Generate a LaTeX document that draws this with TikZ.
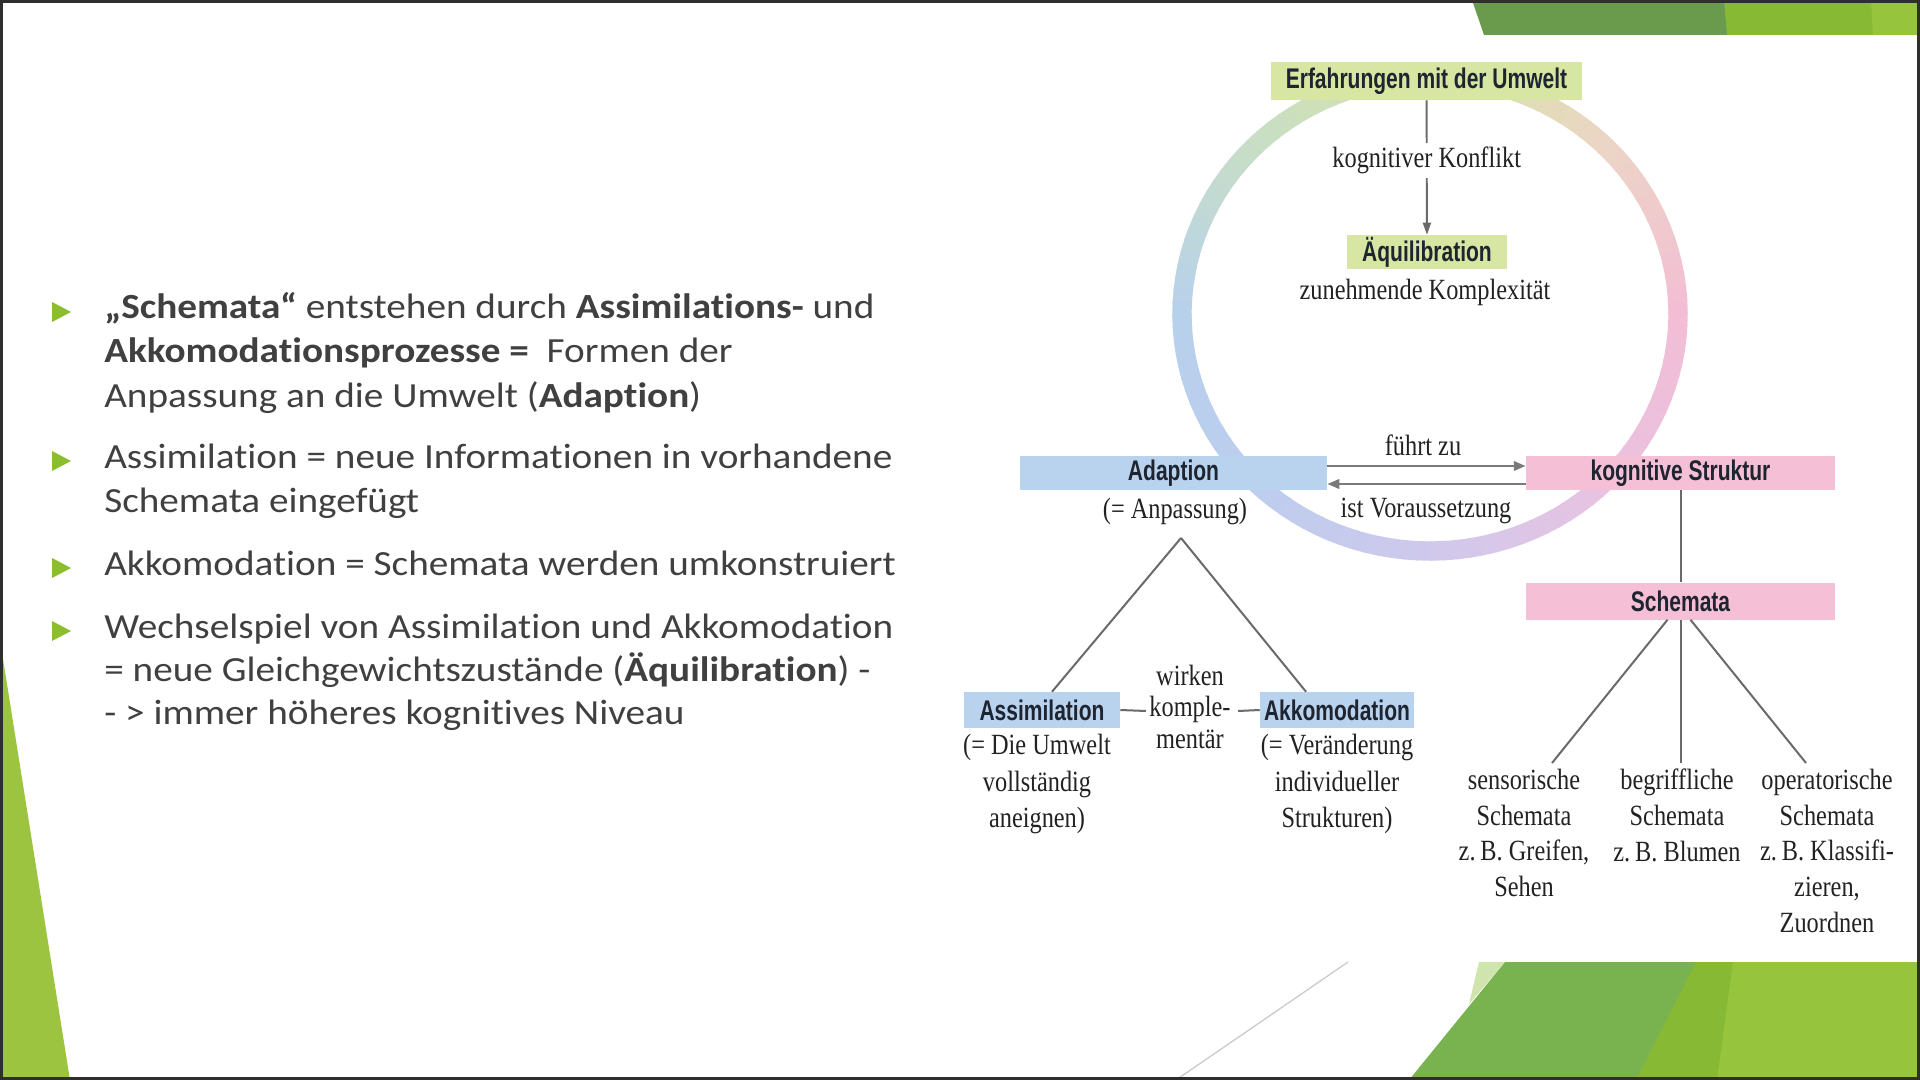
\documentclass[tikz,border=0pt]{standalone}
\usepackage{fontspec}
\setmainfont[FakeStretch=1.11,Ligatures=NoCommon]{Carlito}
\newfontfamily\dserif[FakeStretch=0.83]{Liberation Serif}
\newfontfamily\dsans[FakeStretch=0.74]{Liberation Sans}
\usetikzlibrary{arrows.meta,calc}
\definecolor{ltext}{HTML}{404040}
\definecolor{dtext}{HTML}{222222}
\definecolor{boxtext}{HTML}{1E2430}
\definecolor{bulgreen}{HTML}{8CBD2C}
\definecolor{boxgreen}{HTML}{D7E6A3}
\definecolor{boxblue}{HTML}{B9D3EE}
\definecolor{boxpink}{HTML}{F5C0D6}
\definecolor{linegray}{HTML}{6A6A6A}
\definecolor{arrgray}{HTML}{7A7A7A}
\definecolor{r0}{HTML}{F3BDD5}
\definecolor{r45}{HTML}{ECD5C6}
\definecolor{r90}{HTML}{D5E4A6}
\definecolor{r135}{HTML}{C8DEC6}
\definecolor{r180}{HTML}{B7D1EC}
\definecolor{r225}{HTML}{BCCDEE}
\definecolor{r270}{HTML}{CFC9EC}
\definecolor{r315}{HTML}{E9C2E0}
\definecolor{gdark}{HTML}{6A9A4B}
\definecolor{gbright}{HTML}{88B935}
\definecolor{glight}{HTML}{96C43D}
\definecolor{gmid}{HTML}{79B34F}
\definecolor{gpale}{HTML}{CFE5AD}
\definecolor{gleft}{HTML}{9CC441}
\definecolor{frame}{HTML}{2E2E2E}
\begin{document}
\begin{tikzpicture}[x=0.75pt,y=-0.75pt,
  box/.style={inner sep=0pt, font=\dsans\bfseries\fontsize{21.3}{24}\selectfont, text=boxtext},
  gbox/.style={box, fill=boxgreen},
  bbox/.style={box, fill=boxblue},
  pbox/.style={box, fill=boxpink},
  lbl/.style={font=\dserif\fontsize{22}{27.3}\selectfont, text=dtext, align=center, inner sep=0pt},
  ltxt/.style={anchor=base west, inner sep=0pt, font=\fontsize{26.5}{30}\selectfont, text=ltext},
  bul/.style={fill=bulgreen},
  conn/.style={draw=linegray, line width=1.5pt},
  harr/.style={draw=arrgray, line width=1.9pt, -{Triangle[length=9pt,width=7pt]}},
  varr/.style={draw=linegray, line width=1.4pt, -{Triangle[length=9pt,width=6pt]}},
  ring/.style={line width=14.5pt, line cap=butt}
]
\useasboundingbox (0,0) rectangle (1920,1080);
\fill[white] (0,0) rectangle (1920,1080);

% decorative shapes
\fill[gleft] (0,640) -- (70,1080) -- (0,1080) -- cycle;
\fill[gdark] (1472,0) -- (1920,0) -- (1920,35) -- (1484,35) -- cycle;
\fill[gbright] (1724,0) -- (1920,0) -- (1920,35) -- (1727,35) -- cycle;
\fill[glight] (1871,0) -- (1920,0) -- (1920,35) -- (1873,35) -- cycle;
\fill[gmid] (1505,962) -- (1920,962) -- (1920,1080) -- (1409,1080) -- cycle;
\fill[gpale] (1479,962) -- (1505,962) -- (1469,1004) -- cycle;
\fill[gbright] (1696,962) -- (1920,962) -- (1920,1080) -- (1636,1080) -- cycle;
\fill[glight] (1733,962) -- (1920,962) -- (1920,1080) -- (1717,1080) -- cycle;
\draw[draw=black!20, line width=1pt] (1176,1080) -- (1348,962);

% bullets and text
\foreach \b in {312,461,568,631}{
  \fill[bul] (52,\b-10) -- (71,\b) -- (52,\b+10) -- cycle;
}
\node[ltxt] (l1a) at (104,319) {\textbf{„Schemata“} entstehen durch \textbf{Assimilations-} und};
\node[ltxt] (l1b) at (104,363) {\textbf{Akkomodationsprozesse =}\ \ Formen der};
\node[ltxt] (l1c) at (104,407) {Anpassung an die Umwelt (\textbf{Adaption})};
\node[ltxt] (l2a) at (104,468) {Assimilation = neue Informationen in vorhandene};
\node[ltxt] (l2b) at (104,512) {Schemata eingefügt};
\node[ltxt] (l3a) at (104,575) {Akkomodation = Schemata werden umkonstruiert};
\node[ltxt] (l4a) at (104,638) {Wechselspiel von Assimilation und Akkomodation};
\node[ltxt] (l4b) at (104,681) {= neue Gleichgewichtszustände (\textbf{Äquilibration}) -};
\node[ltxt] (l4c) at (104,724) {- > immer höheres kognitives Niveau};

% gradient ring
\foreach \a/\ca/\cb in {0/r0/r45,45/r45/r90,90/r90/r135,135/r135/r180,180/r180/r225,225/r225/r270,270/r270/r315,315/r315/r0}{
  \foreach \t in {0,...,14}{
    \pgfmathsetmacro{\s}{\a+3*\t}
    \pgfmathsetmacro{\m}{\s+1.8}
    \pgfmathsetmacro{\e}{\s+3.6}
    \pgfmathtruncatemacro{\p}{100-(100*\t+50)/15}
    \draw[ring,draw=\ca!\p!\cb] ({1430+248*cos(\s)},{314-237*sin(\s)}) -- ({1430+248*cos(\m)},{314-237*sin(\m)}) -- ({1430+248*cos(\e)},{314-237*sin(\e)});
  }
}

% boxes
\node[gbox, minimum width=233.25pt, minimum height=28.5pt] (erf) at (1426.5,81) {Erfahrungen mit der Umwelt};
\node[gbox, minimum width=120pt, minimum height=25.5pt] (aeq) at (1427,252) {Äquilibration};
\node[bbox, minimum width=230.25pt, minimum height=25.5pt] (adap) at (1173.5,473) {Adaption};
\node[pbox, minimum width=231.75pt, minimum height=25.5pt] (ks) at (1680.5,473) {kognitive Struktur};
\node[pbox, minimum width=231.75pt, minimum height=27.75pt] (sch) at (1680.5,601) {Schemata};
\node[bbox, minimum width=117pt, minimum height=27pt] (assim) at (1042,710) {Assimilation};
\node[bbox, minimum width=115.5pt, minimum height=27pt] (akk) at (1337,710) {Akkomodation};

% labels
\node[lbl] (kompl) at (1425,292) {zunehmende Komplexität};
\node[lbl] (anp) at (1175,511) {(= Anpassung)};
\node[lbl] (fz) at (1423,445) {führt zu};
\node[lbl] (iv) at (1426,511) {ist Voraussetzung};
\node[lbl, anchor=north, font=\dserif\fontsize{22}{23.5}\selectfont] (wk) at (1190,665) {wirken\\komple-\\mentär};
\node[lbl, anchor=north] (assimt) at (1037,734) {(= Die Umwelt\\vollständig\\aneignen)};
\node[lbl, anchor=north] (akkt) at (1337,734) {(= Veränderung\\individueller\\Strukturen)};
\node[lbl, anchor=north, font=\dserif\fontsize{22}{26.7}\selectfont] (sens) at (1524,769) {sensorische\\Schemata\\z.\,B. Greifen,\\Sehen};
\node[lbl, anchor=north, font=\dserif\fontsize{22}{26.7}\selectfont] (begr) at (1677,769) {begriffliche\\Schemata\\z.\,B. Blumen};
\node[lbl, anchor=north, font=\dserif\fontsize{22}{26.7}\selectfont] (oper) at (1827,769) {operatorische\\Schemata\\z.\,B. Klassifi-\\zieren,\\Zuordnen};

% connectors
\draw[varr] (erf) -- node[lbl, pos=0.45, fill=white, inner ysep=3pt] (kk) {kognitiver Konflikt} (aeq);
\draw[harr] ($(adap.east)+(0,-7)$) -- ($(ks.west)+(0,-7)$);
\draw[harr] ($(ks.west)+(0,11)$) -- ($(adap.east)+(0,11)$);
\draw[conn] (ks.south) -- (sch.north);
\coordinate (apex) at (1181,538);
\draw[conn] (apex) -- ($(assim.north)+(10,0)$);
\draw[conn] (apex) -- ($(akk.north)+(-31,0)$);
\coordinate (wk1) at (1146,711);
\coordinate (wk2) at (1238,711);
\draw[conn] (assim.east) -- (wk1);
\draw[conn] (wk2) -- (akk.west);
\coordinate (s1) at (1552,763);
\coordinate (s2) at (1680.5,763);
\coordinate (s3) at (1806,763);
\draw[conn] ($(sch.south)+(-13,0)$) -- (s1);
\draw[conn] (sch.south) -- (s2);
\draw[conn] ($(sch.south)+(10,0)$) -- (s3);

% slide frame
\draw[frame, line width=2.2pt] (1.5,1.5) rectangle (1918.5,1078.5);
\end{tikzpicture}
\end{document}
